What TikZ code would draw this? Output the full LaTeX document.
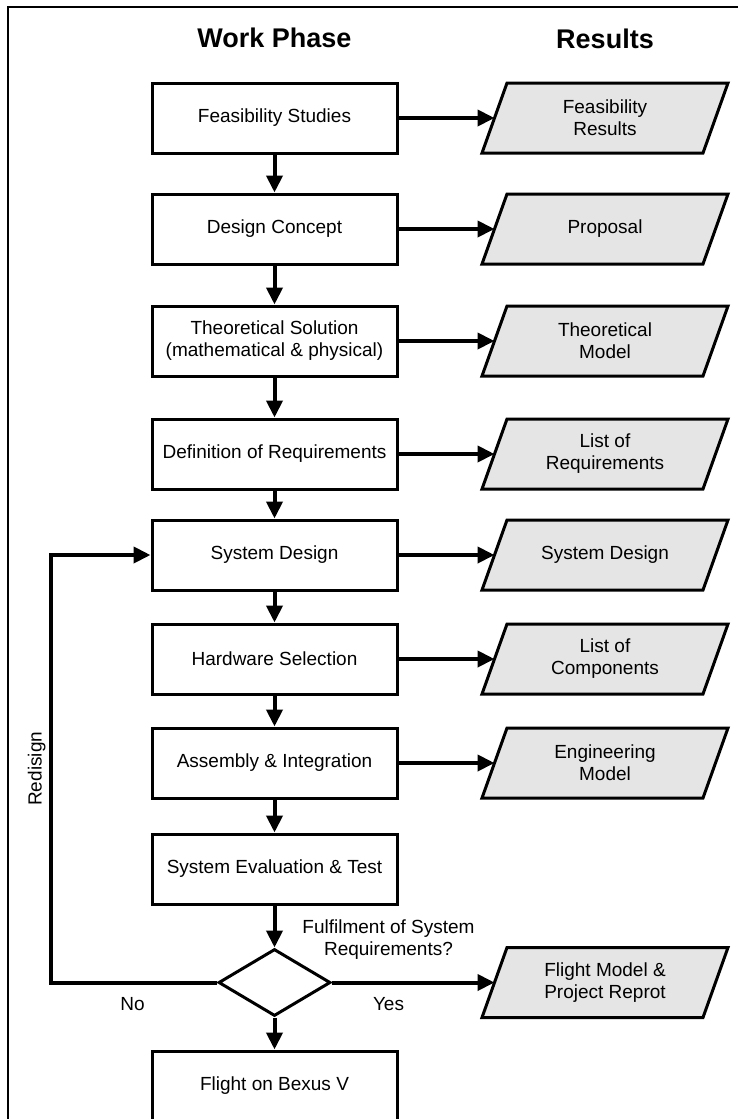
\documentclass[tikz,border=0pt]{standalone}
\usepackage{fontspec}
\setmainfont{Liberation Sans}
\usetikzlibrary{shapes.geometric, arrows.meta, positioning, calc, backgrounds}

\begin{document}
\begin{tikzpicture}[
    x=1pt, y=1pt,
    phase/.style={rectangle, draw=black, line width=3pt, fill=white, minimum width=245pt, minimum height=70pt, inner sep=2pt, align=center, font=\fontsize{19}{22}\selectfont},
    result/.style={rectangle, minimum width=218pt, minimum height=70pt, inner sep=2pt, outer sep=1.5pt, align=center, font=\fontsize{19}{22}\selectfont},
    resultbox/.style={draw=black, line width=3pt, fill=gray!20, line join=miter},
    check/.style={diamond, draw=black, line width=3pt, fill=white, minimum width=112pt, minimum height=67pt, inner sep=0pt},
    arrow/.style={-{Triangle[length=17pt, width=16pt]}, line width=4pt},
    heading/.style={font=\fontsize{27}{30}\selectfont\bfseries, inner sep=0pt},
    label/.style={font=\fontsize{19}{22}\selectfont, align=center}
]
\useasboundingbox (0,0) rectangle (738,-1119);

% Frame
\draw[line width=2pt] (8,-7) rectangle (760,-1140);

% Work Phase column
\node[phase] (feas) at (274.5,-118) {Feasibility Studies};
\node[phase, below=38pt of feas] (concept) {Design Concept};
\node[phase, below=39pt of concept] (theory) {Theoretical Solution\\(mathematical \& physical)};
\node[phase, below=40pt of theory] (reqdef) {Definition of Requirements};
\node[phase, below=28pt of reqdef] (sysdes) {System Design};
\node[phase, below=31pt of sysdes] (hwsel) {Hardware Selection};
\node[phase, below=31pt of hwsel] (assy) {Assembly \& Integration};
\node[phase, below=33pt of assy] (evaltest) {System Evaluation \& Test};
\node[check, below=42pt of evaltest] (dec) {};
\node[phase, below=32pt of dec] (flight) {Flight on Bexus V};

% Results column
\node[result, right=96pt of feas] (rfeas) {Feasibility\\Results};
\node[result, right=96pt of concept] (rprop) {Proposal};
\node[result, right=96pt of theory] (rmodel) {Theoretical\\Model};
\node[result, right=96pt of reqdef] (rreq) {List of\\Requirements};
\node[result, right=96pt of sysdes] (rsys) {System Design};
\node[result, right=96pt of hwsel] (rcomp) {List of\\Components};
\node[result, right=96pt of assy] (reng) {Engineering\\Model};
\node[result] (rflight) at (reng |- dec) {Flight Model \&\\Project Reprot};

% Parallelograms behind the results
\begin{scope}[on background layer]
\foreach \r in {rfeas, rprop, rmodel, rreq, rsys, rcomp, reng, rflight}
    \draw[resultbox] ($(\r.south west)+(-12.5,1.5)$) -- ($(\r.south east)+(-12.5,1.5)$)
        -- ($(\r.north east)+(12.5,-1.5)$) -- ($(\r.north west)+(12.5,-1.5)$) -- cycle;
\end{scope}

% Headings
\node[heading, above=34pt of feas] (hwork) {Work Phase};
\node[heading, above=32.5pt of rfeas] (hres) {Results};

% Flow arrows
\draw[arrow] (feas) -- (concept);
\draw[arrow] (concept) -- (theory);
\draw[arrow] (theory) -- (reqdef);
\draw[arrow] (reqdef) -- (sysdes);
\draw[arrow] (sysdes) -- (hwsel);
\draw[arrow] (hwsel) -- (assy);
\draw[arrow] (assy) -- (evaltest);
\draw[arrow] (evaltest) -- (dec);
\draw[arrow] (dec) -- (flight);

% Result arrows
\draw[arrow] (feas) -- (rfeas);
\draw[arrow] (concept) -- (rprop);
\draw[arrow] (theory) -- (rmodel);
\draw[arrow] (reqdef) -- (rreq);
\draw[arrow] (sysdes) -- (rsys);
\draw[arrow] (hwsel) -- (rcomp);
\draw[arrow] (assy) -- (reng);
\draw[arrow] (dec) -- (rflight);

% Decision labels
\node[label] (ask) at ($(dec)+(114,43)$) {Fulfilment of System\\Requirements?};
\node[label] (yes) at ($(dec)+(114,-22)$) {Yes};
\node[label] (no) at ($(dec)+(-142,-22)$) {No};

% Redesign loop
\coordinate (redo) at ($(dec.west)+(-166,0)$);
\draw[arrow] (dec.west) -- (redo) |- node[label, pos=0.25, above, rotate=90] {Redisign} (sysdes.west);

\end{tikzpicture}
\end{document}
